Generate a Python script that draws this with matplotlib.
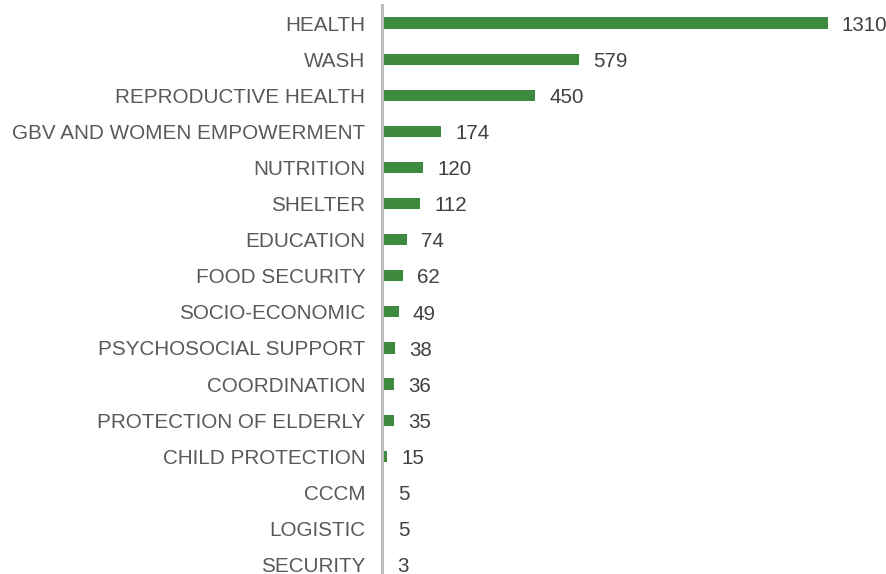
import matplotlib
matplotlib.use("Agg")
import matplotlib.pyplot as plt

categories = ["HEALTH", "WASH", "REPRODUCTIVE HEALTH", "GBV AND WOMEN EMPOWERMENT",
              "NUTRITION", "SHELTER", "EDUCATION", "FOOD SECURITY", "SOCIO-ECONOMIC",
              "PSYCHOSOCIAL SUPPORT", "COORDINATION", "PROTECTION OF ELDERLY",
              "CHILD PROTECTION", "CCCM", "LOGISTIC", "SECURITY"]
values = [1310, 579, 450, 174, 120, 112, 74, 62, 49, 38, 36, 35, 15, 5, 5, 3]

plt.rcParams['font.family'] = ['Liberation Sans', 'DejaVu Sans']

W, H = 886, 574
fig = plt.figure(figsize=(W / 100, H / 100), dpi=100)
ax = fig.add_axes([382 / W, 0, 1 - 382 / W, (574 - 5) / H])

pos = list(range(len(categories)))
ax.barh(pos, values, height=0.31, color="#3d8a3f")
ax.set_xlim(0, 1482)
ax.set_ylim(15.26, -0.5)

for p, v in zip(pos, values):
    ax.text(v + 42, p + 0.06, str(v), va="center", ha="left", fontsize=14.8, color="#404040")

ax.set_yticks(pos)
ax.set_yticklabels(categories, fontsize=14.9, color="#595959")
ax.tick_params(axis="y", length=0, pad=12)
ax.set_xticks([])
for s in ["top", "right", "bottom"]:
    ax.spines[s].set_visible(False)
ax.spines["left"].set_color("#c0bcb8")
ax.spines["left"].set_linewidth(2.2)

fig.savefig("out.png", dpi=100)
